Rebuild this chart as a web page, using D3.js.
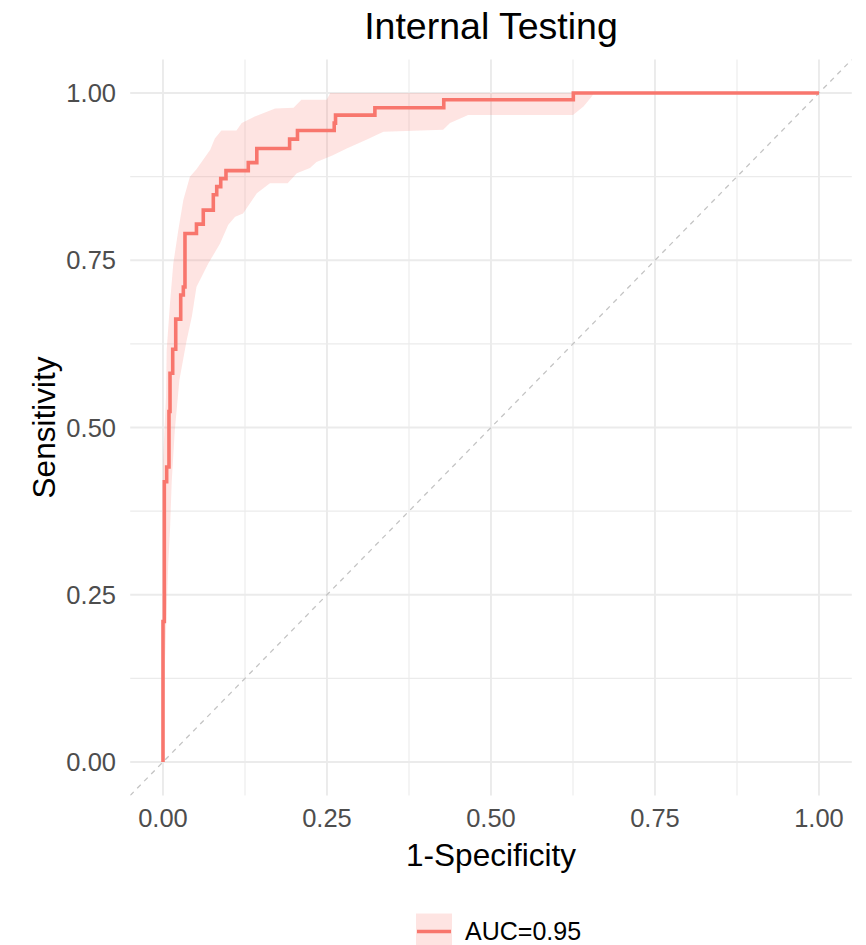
<!DOCTYPE html>
<html><head><meta charset="utf-8">
<script src="https://cdn.jsdelivr.net/npm/d3@7"></script>
<style>body{margin:0;background:#fff}</style>
</head><body><svg id="c" width="866" height="945"></svg>
<script>
// ---- data ----
const rocFpr  = [0, 0, 0.002, 0.0056, 0.0091, 0.0107, 0.0148, 0.0194, 0.027, 0.031, 0.0335, 0.051, 0.0614, 0.0767, 0.0819, 0.088, 0.096, 0.130, 0.143, 0.193, 0.205, 0.261, 0.263, 0.323, 0.428, 0.6255, 1];
const rocSens = [0, 0.21, 0.419, 0.441, 0.524, 0.581, 0.617, 0.662, 0.698, 0.710, 0.790, 0.804, 0.825, 0.848, 0.860, 0.872, 0.884, 0.896, 0.917, 0.931, 0.944, 0.955, 0.967, 0.978, 0.990, 1, 1];

const bandHiFpr = [0, 0.0046, 0.0056, 0.0107, 0.0157, 0.0233, 0.031, 0.041, 0.051, 0.072, 0.079, 0.089, 0.112, 0.12, 0.14, 0.171, 0.199, 0.211, 0.2495, 0.255, 1];
const bandHi    = [0.45, 0.546, 0.616, 0.686, 0.745, 0.795, 0.840, 0.875, 0.886, 0.915, 0.932, 0.944, 0.944, 0.955, 0.965, 0.977, 0.978, 0.990, 0.990, 1, 1];

const bandLoFpr = [0, 0.003, 0.008, 0.0107, 0.0133, 0.018, 0.025, 0.036, 0.044, 0.051, 0.069, 0.087, 0.0995, 0.11, 0.122, 0.143, 0.163, 0.19, 0.204, 0.224, 0.234, 0.259, 0.28, 0.31, 0.336, 0.427, 0.4375, 0.46, 0.465, 0.625, 0.641, 0.653, 0.657, 1];
const bandLo    = [0, 0.15, 0.297, 0.347, 0.419, 0.496, 0.571, 0.630, 0.666, 0.710, 0.745, 0.775, 0.803, 0.815, 0.82, 0.85, 0.865, 0.865, 0.880, 0.888, 0.897, 0.907, 0.917, 0.93, 0.942, 0.945, 0.955, 0.965, 0.967, 0.967, 0.98, 0.994, 1, 1];

const majorTicks = [0, 0.25, 0.5, 0.75, 1];
const minorTicks = [0.125, 0.375, 0.625, 0.875];
const tickLabels = ["0.00", "0.25", "0.50", "0.75", "1.00"];
const titleText = "Internal Testing";
const xTitle = "1-Specificity";
const yTitle = "Sensitivity";
const legendLabel = "AUC=0.95";

// ---- drawing ----
const FONT = "'Liberation Sans', Arial, sans-serif";
const RED = "#F8766D";
const svg = d3.select("#c");
const x = d3.scaleLinear().domain([-0.05, 1.05]).range([130.2, 851.8]);
const y = d3.scaleLinear().domain([-0.05, 1.05]).range([795.45, 59.55]);

svg.append("defs").append("clipPath").attr("id", "clip")
  .append("rect").attr("x", x(-0.05)).attr("y", y(1.05))
  .attr("width", x(1.05) - x(-0.05)).attr("height", y(-0.05) - y(1.05));

const grid = svg.append("g");
minorTicks.forEach(t => {
  grid.append("line").attr("x1", x(t)).attr("x2", x(t)).attr("y1", y(-0.05)).attr("y2", y(1.05))
    .attr("stroke", "#EBEBEB").attr("stroke-width", 1.1);
  grid.append("line").attr("y1", y(t)).attr("y2", y(t)).attr("x1", x(-0.05)).attr("x2", x(1.05))
    .attr("stroke", "#EBEBEB").attr("stroke-width", 1.1);
});
majorTicks.forEach(t => {
  grid.append("line").attr("x1", x(t)).attr("x2", x(t)).attr("y1", y(-0.05)).attr("y2", y(1.05))
    .attr("stroke", "#EBEBEB").attr("stroke-width", 1.9);
  grid.append("line").attr("y1", y(t)).attr("y2", y(t)).attr("x1", x(-0.05)).attr("x2", x(1.05))
    .attr("stroke", "#EBEBEB").attr("stroke-width", 1.9);
});

const plot = svg.append("g").attr("clip-path", "url(#clip)");

// diagonal reference
plot.append("line").attr("x1", x(-0.05)).attr("y1", y(-0.05)).attr("x2", x(1.05)).attr("y2", y(1.05))
  .attr("stroke", "#C4C4C4").attr("stroke-width", 1.3).attr("stroke-dasharray", "5,5");

// ribbon (polygon: upper forward, lower reversed)
const hiPts = bandHiFpr.map((f, i) => [f, bandHi[i]]);
const loPts = bandLoFpr.map((f, i) => [f, bandLo[i]]).reverse();
const poly = d3.line().x(d => x(d[0])).y(d => y(d[1]));
plot.append("path").attr("d", poly(hiPts.concat(loPts)) + "Z")
  .attr("fill", RED).attr("fill-opacity", 0.2).attr("stroke", "none");

// ROC step line
const rocPts = rocFpr.map((f, i) => [f, rocSens[i]]);
const stepLine = d3.line().x(d => x(d[0])).y(d => y(d[1])).curve(d3.curveStepAfter);
plot.append("path").attr("d", stepLine(rocPts))
  .attr("fill", "none").attr("stroke", RED).attr("stroke-width", 3.6).attr("stroke-linejoin", "miter");

// axes labels
const tickSize = 25.5;
majorTicks.forEach((t, i) => {
  svg.append("text").attr("x", 116).attr("y", y(t)).attr("dy", "0.36em")
    .attr("text-anchor", "end").attr("font-family", FONT).attr("font-size", tickSize)
    .attr("fill", "#4D4D4D").text(tickLabels[i]);
  svg.append("text").attr("x", x(t)).attr("y", 827)
    .attr("text-anchor", "middle").attr("font-family", FONT).attr("font-size", tickSize)
    .attr("fill", "#4D4D4D").text(tickLabels[i]);
});

svg.append("text").attr("x", (x(-0.05) + x(1.05)) / 2).attr("y", 866)
  .attr("text-anchor", "middle").attr("font-family", FONT).attr("font-size", 31.5)
  .attr("fill", "#000").text(xTitle);
svg.append("text").attr("transform", `translate(55,${(y(-0.05) + y(1.05)) / 2}) rotate(-90)`)
  .attr("text-anchor", "middle").attr("font-family", FONT).attr("font-size", 31.5)
  .attr("fill", "#000").text(yTitle);
svg.append("text").attr("x", (x(-0.05) + x(1.05)) / 2).attr("y", 38.5)
  .attr("text-anchor", "middle").attr("font-family", FONT).attr("font-size", 37.5)
  .attr("fill", "#000").text(titleText);

// legend
const lg = svg.append("g");
lg.append("rect").attr("x", 416).attr("y", 913.5).attr("width", 36).attr("height", 36)
  .attr("fill", RED).attr("fill-opacity", 0.2);
lg.append("line").attr("x1", 417).attr("x2", 451).attr("y1", 931.5).attr("y2", 931.5)
  .attr("stroke", RED).attr("stroke-width", 3.6);
lg.append("text").attr("x", 465).attr("y", 940).attr("font-family", FONT).attr("font-size", 25)
  .attr("fill", "#000").text(legendLabel);
</script></body></html>
